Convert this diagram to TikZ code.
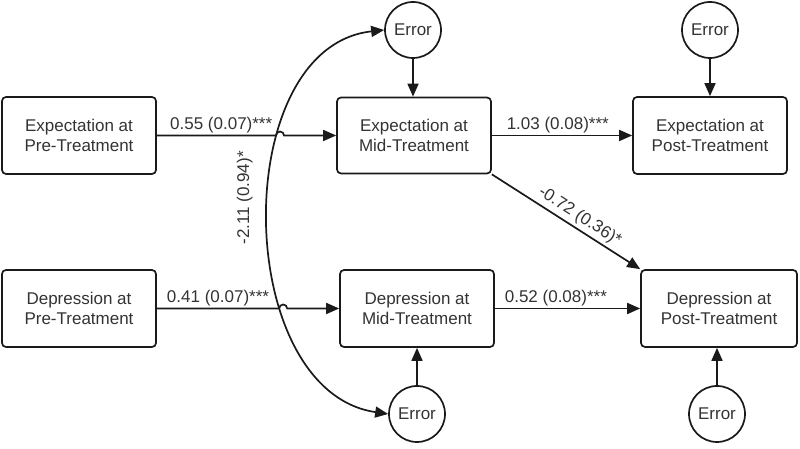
\documentclass[tikz,border=0pt]{standalone}
\usepackage{fontspec}
\setmainfont{Liberation Sans}
\usetikzlibrary{arrows.meta,intersections,calc}
\definecolor{txt}{HTML}{333333}
\definecolor{ln}{HTML}{1A1A1A}
\begin{document}
\begin{tikzpicture}[x=1pt,y=1pt,
  box/.style={draw=ln, line width=1.7pt, rounded corners=4pt, minimum width=154pt, minimum height=77pt,
    align=center, font=\fontsize{17}{20}\selectfont, text=txt},
  err/.style={draw=ln, circle, line width=1.7pt, minimum size=56pt, inner sep=0pt,
    font=\fontsize{17}{20}\selectfont, text=txt},
  arr/.style={draw=ln, line width=1.7pt, -{Triangle[length=13pt,width=11pt]}},
  lbl/.style={font=\fontsize{17}{20}\selectfont, inner sep=2pt, text=txt}]
\useasboundingbox (0,0) rectangle (800,449);

\node[box] (A) at (79,313.5) {Expectation at\\Pre-Treatment};
\node[box, minimum height=76pt] (B) at (414,313.5) {Expectation at\\Mid-Treatment};
\node[box] (C) at (710,313.5) {Expectation at\\Post-Treatment};
\node[box] (D) at (79,140.5) {Depression at\\Pre-Treatment};
\node[box] (E) at (417,140.5) {Depression at\\Mid-Treatment};
\node[box, minimum width=156pt] (F) at (719,140.5) {Depression at\\Post-Treatment};

\node[err] (e1) at (413,419) {Error};
\node[err] (e2) at (710,419) {Error};
\node[err] (e3) at (417,35) {Error};
\node[err] (e4) at (717,35) {Error};

% covariance curve
\draw[draw=ln, line width=1.7pt, {Triangle[length=13pt,width=11pt]}-{Triangle[length=13pt,width=11pt]}, name path=curve]
  (e1.west) .. controls (228,402) and (232,58) .. (e3.west)
  node[lbl, rotate=90, above=14pt, pos=0.46] {-2.11 (0.94)*};

\path[name path=h1] (A.east) -- (B.west);
\path[name path=h2] (D.east) -- (E.west);
\path[name intersections={of=curve and h1, by=X1}];
\path[name intersections={of=curve and h2, by=X2}];

\draw[arr] (A.east) -- node[lbl, above, pos=0.54] {0.55 (0.07)***} ($(X1)+(-4pt,0)$)
  arc[start angle=180, end angle=0, radius=4pt] -- (B.west);
\draw[arr] (D.east) -- node[lbl, above, pos=0.5] {0.41 (0.07)***} ($(X2)+(-4pt,0)$)
  arc[start angle=180, end angle=0, radius=4pt] -- (E.west);

\draw[arr] (B.east) -- node[lbl, above, pos=0.47] {1.03 (0.08)***} (C.west);
\draw[arr] (E.east) -- node[lbl, above, pos=0.42] {0.52 (0.08)***} (F.west);
\draw[arr] (B.south east) -- node[lbl, sloped, above=1pt, pos=0.55] {-0.72 (0.36)*} (F.north west);

\draw[arr] (e1.south) -- (B.north -| e1.south);
\draw[arr] (e2.south) -- (C.north -| e2.south);
\draw[arr] (e3.north) -- (E.south -| e3.north);
\draw[arr] (e4.north) -- (F.south -| e4.north);
\end{tikzpicture}
\end{document}
